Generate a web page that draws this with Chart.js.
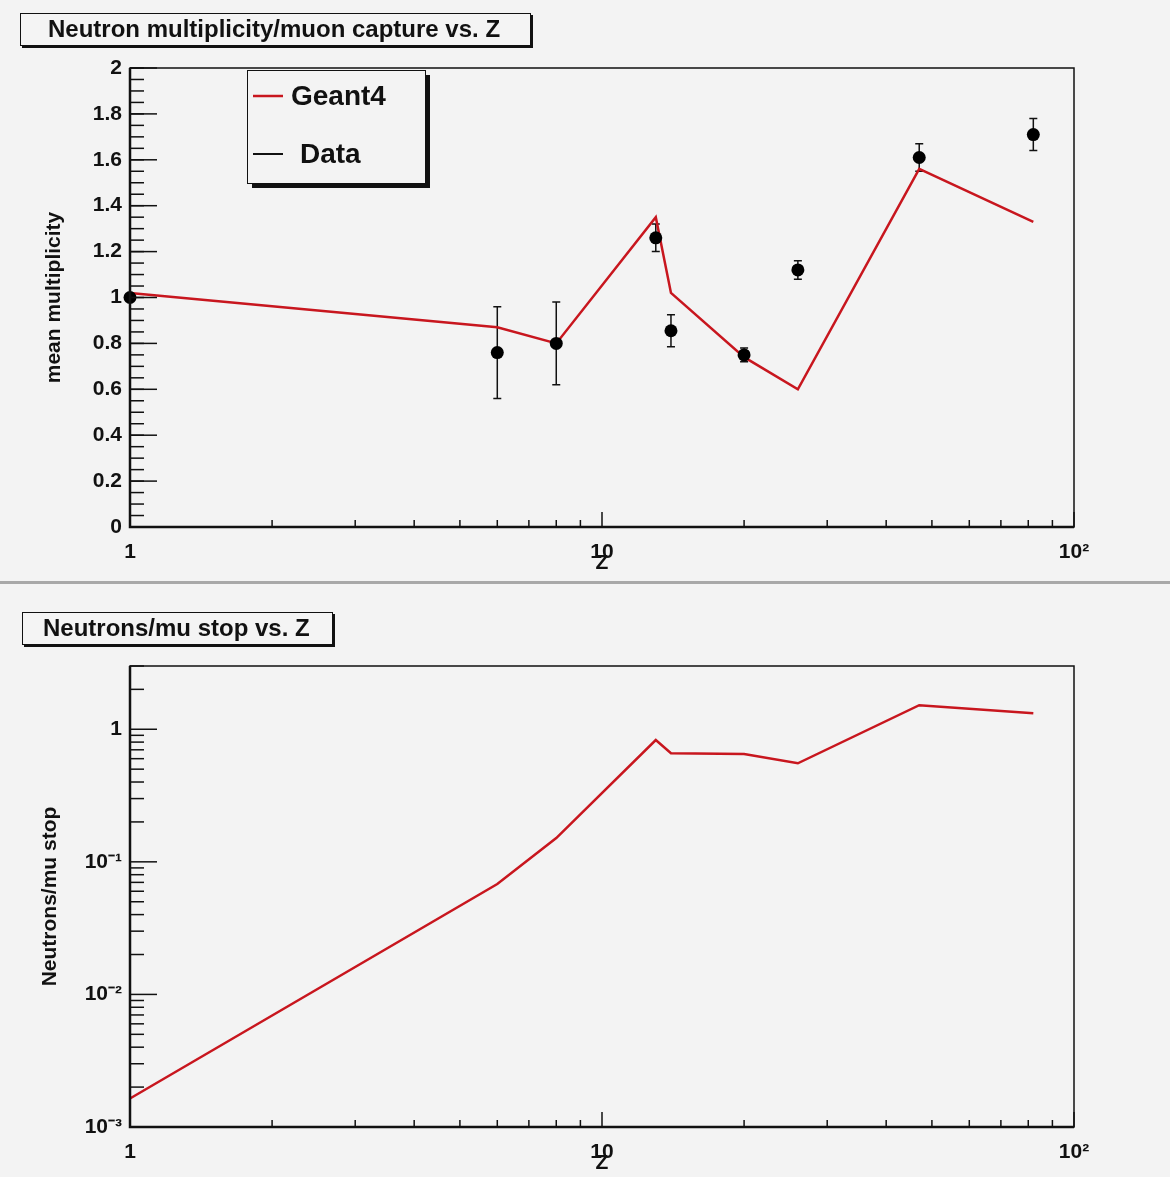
<!DOCTYPE html>
<html>

<head>
    <title>Neutron multiplicity vs. Z</title>
    <script src="https://cdn.jsdelivr.net/npm/chart.js"></script>
    <style>
        body {
            margin: 0;
            width: 1170px;
            height: 1177px;
            position: relative;
            overflow: hidden;
            background: #f3f3f3;
            font-family: "Liberation Sans", Arial, sans-serif;
        }

        canvas {
            position: absolute;
            left: 0;
        }

        #topChart {
            top: 0;
        }

        #bottomChart {
            top: 580px;
        }

        /* grey bar between the two pads */
        .sep {
            position: absolute;
            left: 0;
            top: 581px;
            width: 1170px;
            height: 3px;
            background: #a8a8a8;
        }

        /* ROOT style title boxes */
        .ptitle {
            position: absolute;
            box-sizing: border-box;
            border: 1.5px solid #111;
            box-shadow: 2px 2px 0 #111;
            background: #f4f4f4;
            font-weight: bold;
            font-size: 24px;
            line-height: 30px;
            color: #111;
            white-space: nowrap;
        }
    </style>
</head>

<body>
    <canvas id="topChart" width="1170" height="580"></canvas>
    <canvas id="bottomChart" width="1170" height="597"></canvas>
    <div class="sep"></div>
    <div class="ptitle" style="left:20px; top:13px; width:511px; height:33px; padding-left:27px;">Neutron multiplicity/muon capture vs. Z</div>
    <div class="ptitle" style="left:22px; top:612px; width:311px; height:33px; padding-left:20px;">Neutrons/mu stop vs. Z</div>

    <script>
        // atomic number of the targets
        const zValues = [1, 6, 8, 13, 14, 20, 26, 47, 82];

        // Geant4 mean neutron multiplicity per muon capture
        const g4Multiplicity = [1.02, 0.87, 0.80, 1.35, 1.02, 0.74, 0.60, 1.56, 1.33];

        // measured multiplicity and its error
        const dataMultiplicity = [1.00, 0.76, 0.80, 1.26, 0.855, 0.75, 1.12, 1.61, 1.71];
        const dataError = [0.01, 0.20, 0.18, 0.06, 0.07, 0.03, 0.04, 0.06, 0.07];

        // Geant4 neutrons per stopped muon
        const g4PerStop = [0.00164, 0.068, 0.151, 0.83, 0.66, 0.65, 0.554, 1.52, 1.32];

        // tick labels
        const zTickValues = [1, 10, 100];
        const zTickLabels = ["1", "10", "10²"];
        const stopTickValues = [0.001, 0.01, 0.1, 1];
        const stopTickLabels = ["10⁻³", "10⁻²", "10⁻¹", "1"];

        const RED = "#c8161e";
        const FONT = "'Liberation Sans', Arial, sans-serif";

        Chart.defaults.font.family = FONT;
        Chart.defaults.color = "#111";

        function logMinors(lo, hi) {
            const out = [];
            for (let d = lo; d < hi; d *= 10) {
                for (let k = 2; k <= 9; k++) out.push(k * d);
            }
            return out;
        }

        function linTicks(min, max, step) {
            const out = [];
            for (let v = min; v <= max + 1e-9; v += step) out.push(+v.toFixed(4));
            return out;
        }

        // frame + ROOT style tick marks drawn inside the frame
        const rootFrame = {
            id: "rootFrame",
            afterDatasetsDraw(chart, args, opts) {
                const { ctx, chartArea: a, scales } = chart;
                const x = scales.x, y = scales.y;
                ctx.save();
                ctx.strokeStyle = "#111";
                ctx.lineWidth = 1.5;

                const tick = (v, len, vertical) => {
                    ctx.beginPath();
                    if (vertical) {
                        const px = x.getPixelForValue(v);
                        if (px < a.left - 0.5 || px > a.right + 0.5) return;
                        ctx.moveTo(px, a.bottom);
                        ctx.lineTo(px, a.bottom - len);
                    } else {
                        const py = y.getPixelForValue(v);
                        if (py < a.top - 0.5 || py > a.bottom + 0.5) return;
                        ctx.moveTo(a.left, py);
                        ctx.lineTo(a.left + len, py);
                    }
                    ctx.stroke();
                };
                opts.xMajor.forEach(v => tick(v, 15, true));
                opts.xMinor.forEach(v => tick(v, 7, true));
                opts.yMajor.forEach(v => tick(v, 27, false));
                opts.yMinor.forEach(v => tick(v, 14, false));

                ctx.strokeRect(a.left, a.top, a.right - a.left, a.bottom - a.top);
                ctx.lineWidth = 2.5;
                ctx.beginPath();
                ctx.moveTo(a.left, a.top);
                ctx.lineTo(a.left, a.bottom);
                ctx.lineTo(a.right, a.bottom);
                ctx.stroke();
                ctx.restore();
            }
        };

        // vertical error bars for the data set
        const errorBars = {
            id: "errorBars",
            beforeDatasetsDraw(chart, args, opts) {
                if (!opts.errors) return;
                const { ctx, scales } = chart;
                const ds = chart.data.datasets[opts.datasetIndex];
                ctx.save();
                ctx.strokeStyle = "#111";
                ctx.lineWidth = 1.5;
                ds.data.forEach((p, i) => {
                    const e = opts.errors[i];
                    const px = scales.x.getPixelForValue(p.x);
                    const y1 = scales.y.getPixelForValue(p.y + e);
                    const y2 = scales.y.getPixelForValue(p.y - e);
                    ctx.beginPath();
                    ctx.moveTo(px, y1); ctx.lineTo(px, y2);
                    ctx.moveTo(px - 4, y1); ctx.lineTo(px + 4, y1);
                    ctx.moveTo(px - 4, y2); ctx.lineTo(px + 4, y2);
                    ctx.stroke();
                });
                ctx.restore();
            }
        };

        // ROOT style legend box with drop shadow
        const rootLegend = {
            id: "rootLegend",
            afterDraw(chart, args, opts) {
                if (!opts.show) return;
                const { ctx } = chart;
                const b = opts.box;
                ctx.save();
                ctx.fillStyle = "#111";
                ctx.fillRect(b.x + 5, b.y + 5, b.w, b.h);
                ctx.fillStyle = "#f3f3f3";
                ctx.fillRect(b.x, b.y, b.w, b.h);
                ctx.strokeStyle = "#111";
                ctx.lineWidth = 1;
                ctx.strokeRect(b.x + 0.5, b.y + 0.5, b.w, b.h);
                ctx.font = "bold 28px " + FONT;
                ctx.textBaseline = "middle";
                chart.data.datasets.forEach((ds, i) => {
                    const row = opts.rows[i];
                    ctx.strokeStyle = ds.legendColor;
                    ctx.lineWidth = ds.legendWidth;
                    ctx.beginPath();
                    ctx.moveTo(b.x + 6, row.y);
                    ctx.lineTo(b.x + 36, row.y);
                    ctx.stroke();
                    ctx.fillStyle = "#111";
                    ctx.fillText(ds.label, row.tx, row.y + 1);
                });
                ctx.restore();
            }
        };

        function fixedAxis(size, horizontal) {
            return function (scale) {
                if (horizontal) scale.height = size; else scale.width = size;
            };
        }

        function setTicks(values) {
            return function (scale) {
                scale.ticks = values.map(v => ({ value: v }));
            };
        }

        // ---- top pad: multiplicity ----
        new Chart(document.getElementById("topChart"), {
            type: "scatter",
            data: {
                datasets: [
                    {
                        label: "Geant4",
                        data: zValues.map((z, i) => ({ x: z, y: g4Multiplicity[i] })),
                        showLine: true,
                        borderColor: RED,
                        borderWidth: 2.5,
                        pointRadius: 0,
                        legendColor: RED,
                        legendWidth: 2.5,
                        clip: false,
                        order: 2
                    },
                    {
                        label: "Data",
                        data: zValues.map((z, i) => ({ x: z, y: dataMultiplicity[i] })),
                        showLine: false,
                        pointRadius: 6.5,
                        pointBackgroundColor: "#000",
                        pointBorderColor: "#000",
                        pointBorderWidth: 0,
                        legendColor: "#111",
                        legendWidth: 2,
                        clip: false,
                        order: 1
                    }
                ]
            },
            options: {
                responsive: false,
                animation: false,
                layout: { padding: { top: 68, right: 96, bottom: 0, left: 0 } },
                scales: {
                    x: {
                        type: "logarithmic",
                        min: 1,
                        max: 100,
                        afterFit: fixedAxis(53, true),
                        afterBuildTicks: setTicks(zTickValues),
                        grid: { display: false },
                        border: { display: false },
                        ticks: {
                            padding: 5,
                            maxRotation: 0,
                            autoSkip: false,
                            font: { size: 21, weight: "bold" },
                            callback: (v, i) => zTickLabels[i]
                        },
                        title: {
                            display: true,
                            text: "Z",
                            font: { size: 21, weight: "bold" },
                            padding: { bottom: 4 }
                        }
                    },
                    y: {
                        min: 0,
                        max: 2,
                        afterFit: fixedAxis(130, false),
                        grid: { display: false },
                        border: { display: false },
                        ticks: {
                            stepSize: 0.2,
                            padding: 0,
                            font: { size: 21, weight: "bold" },
                            callback: v => +v.toFixed(1)
                        },
                        title: {
                            display: true,
                            text: "mean multiplicity",
                            font: { size: 21, weight: "bold" },
                            padding: { top: 42 }
                        }
                    }
                },
                plugins: {
                    legend: { display: false },
                    tooltip: { enabled: false },
                    rootFrame: {
                        xMajor: zTickValues,
                        xMinor: logMinors(1, 100),
                        yMajor: linTicks(0, 2, 0.2),
                        yMinor: linTicks(0, 2, 0.05)
                    },
                    errorBars: { datasetIndex: 1, errors: dataError },
                    rootLegend: {
                        show: true,
                        box: { x: 247, y: 70, w: 178, h: 113 },
                        rows: [{ y: 96, tx: 291 }, { y: 154, tx: 300 }]
                    }
                }
            },
            plugins: [errorBars, rootFrame, rootLegend]
        });

        // ---- bottom pad: neutrons per stopped muon ----
        new Chart(document.getElementById("bottomChart"), {
            type: "scatter",
            data: {
                datasets: [
                    {
                        label: "Geant4",
                        data: zValues.map((z, i) => ({ x: z, y: g4PerStop[i] })),
                        showLine: true,
                        borderColor: RED,
                        borderWidth: 2.5,
                        pointRadius: 0,
                        clip: false
                    }
                ]
            },
            options: {
                responsive: false,
                animation: false,
                layout: { padding: { top: 86, right: 96, bottom: 0, left: 0 } },
                scales: {
                    x: {
                        type: "logarithmic",
                        min: 1,
                        max: 100,
                        afterFit: fixedAxis(50, true),
                        afterBuildTicks: setTicks(zTickValues),
                        grid: { display: false },
                        border: { display: false },
                        ticks: {
                            padding: 5,
                            maxRotation: 0,
                            autoSkip: false,
                            font: { size: 21, weight: "bold" },
                            callback: (v, i) => zTickLabels[i]
                        },
                        title: {
                            display: true,
                            text: "Z",
                            font: { size: 21, weight: "bold" },
                            padding: { bottom: 1 }
                        }
                    },
                    y: {
                        type: "logarithmic",
                        min: 0.001,
                        max: 3,
                        afterFit: fixedAxis(130, false),
                        afterBuildTicks: setTicks(stopTickValues),
                        grid: { display: false },
                        border: { display: false },
                        ticks: {
                            padding: 0,
                            autoSkip: false,
                            font: { size: 21, weight: "bold" },
                            callback: (v, i) => stopTickLabels[i]
                        },
                        title: {
                            display: true,
                            text: "Neutrons/mu stop",
                            font: { size: 21, weight: "bold" },
                            padding: { top: 38 }
                        }
                    }
                },
                plugins: {
                    legend: { display: false },
                    tooltip: { enabled: false },
                    rootFrame: {
                        xMajor: zTickValues,
                        xMinor: logMinors(1, 100),
                        yMajor: stopTickValues,
                        yMinor: logMinors(0.001, 10)
                    },
                    errorBars: {},
                    rootLegend: { show: false }
                }
            },
            plugins: [rootFrame]
        });
    </script>
</body>

</html>
